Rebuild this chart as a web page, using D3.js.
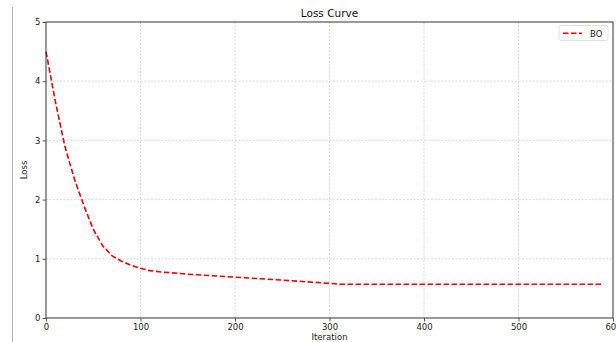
<!DOCTYPE html>
<html><head><meta charset="utf-8">
<script src="https://cdn.jsdelivr.net/npm/d3@7"></script>
<style>body{margin:0;background:#fff;} svg{display:block;font-family:"DejaVu Sans",sans-serif;}</style>
</head><body>
<svg id="c" width="616" height="342"></svg>
<script>
const iterations = [0,10,20,30,40,50,60,70,80,90,100,110,120,150,200,250,300,310,590];
const lossBO = [4.5,3.65,2.9,2.35,1.9,1.5,1.22,1.05,0.96,0.89,0.84,0.8,0.78,0.74,0.69,0.64,0.585,0.57,0.57];
const xTicks = [0,100,200,300,400,500,600];
const yTicks = [0,1,2,3,4,5];
const seriesName = "BO";
const title = "Loss Curve", xLabel = "Iteration", yLabel = "Loss";

const svg = d3.select("#c");
const L=46, R=613, T=22, B=318;
const x = d3.scaleLinear().domain([0,600]).range([L,R]);
const y = d3.scaleLinear().domain([0,5]).range([B,T]);

// left border artifact
svg.append("line").attr("x1",12.5).attr("x2",12.5).attr("y1",7).attr("y2",342).attr("stroke","#b0b0b0").attr("stroke-width",1);

// grid
const g = svg.append("g");
g.selectAll(".gx").data(xTicks.slice(1,-1)).join("line")
 .attr("x1",d=>x(d)).attr("x2",d=>x(d)).attr("y1",T).attr("y2",B)
 .attr("stroke","#cfcfcf").attr("stroke-width",0.8).attr("stroke-dasharray","2,1.5");
g.selectAll(".gy").data(yTicks.slice(1,-1)).join("line")
 .attr("x1",L).attr("x2",R).attr("y1",d=>y(d)).attr("y2",d=>y(d))
 .attr("stroke","#cfcfcf").attr("stroke-width",0.8).attr("stroke-dasharray","2,1.5");

// line
svg.append("path").datum(iterations.map((d,i)=>[d,lossBO[i]]))
 .attr("d", d3.line().x(d=>x(d[0])).y(d=>y(d[1])))
 .attr("fill","none").attr("stroke","#e8000b").attr("stroke-width",1.6).attr("stroke-dasharray","5.5,2.5");

// axes
const xa = svg.append("g").attr("transform",`translate(0,${B})`)
 .call(d3.axisBottom(x).tickValues(xTicks).tickSize(3.5).tickPadding(2).tickFormat(d3.format("d")));
const ya = svg.append("g").attr("transform",`translate(${L},0)`)
 .call(d3.axisLeft(y).tickValues(yTicks).tickSize(3.5).tickPadding(2).tickFormat(d3.format("d")));
[xa,ya].forEach(a=>{a.select(".domain").remove();
 a.selectAll("text").attr("font-size",8.5).attr("fill","#222").attr("font-family","DejaVu Sans");
 a.selectAll("line").attr("stroke","#333").attr("stroke-width",0.8);});

// spines
svg.append("rect").attr("x",L).attr("y",T).attr("width",R-L).attr("height",B-T)
 .attr("fill","none").attr("stroke","#333").attr("stroke-width",1);

// title and labels
svg.append("text").attr("x",(L+R)/2).attr("y",17).attr("text-anchor","middle").attr("font-size",10.5).attr("fill","#111").text(title);
svg.append("text").attr("x",(L+R)/2).attr("y",340).attr("text-anchor","middle").attr("font-size",8.5).attr("fill","#222").text(xLabel);
svg.append("text").attr("transform","translate(27,170) rotate(-90)").attr("text-anchor","middle").attr("font-size",8.5).attr("fill","#222").text(yLabel);

// legend
const lg = svg.append("g");
lg.append("rect").attr("x",559).attr("y",25.5).attr("width",49).attr("height",15).attr("rx",2)
 .attr("fill","#fff").attr("stroke","#d8d8d8").attr("stroke-width",0.8);
lg.append("line").attr("x1",563).attr("x2",582).attr("y1",33.3).attr("y2",33.3)
 .attr("stroke","#e8000b").attr("stroke-width",1.6).attr("stroke-dasharray","5.5,2.5");
lg.append("text").attr("x",590).attr("y",36.5).attr("font-size",8.5).attr("fill","#222").text(seriesName);
</script>
</body></html>
